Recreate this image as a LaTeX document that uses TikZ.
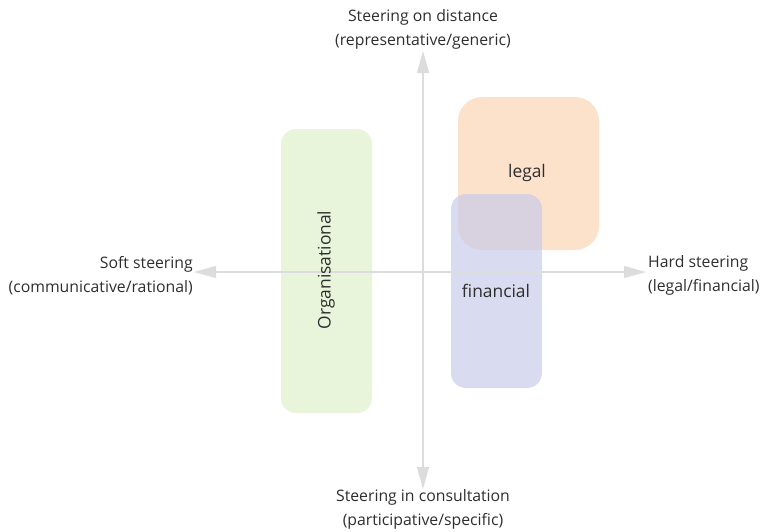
\documentclass[tikz,border=0pt]{standalone}
\usepackage{fontspec}
\setmainfont{Open Sans}
\usetikzlibrary{arrows.meta}
\definecolor{txt}{HTML}{2E2E2E}
\definecolor{axisgray}{HTML}{DCDCDC}
\definecolor{greenfill}{HTML}{E8F5DB}
\definecolor{orangefill}{HTML}{FCE2CB}
\definecolor{bluefill}{HTML}{C9CCE9}
\begin{document}
\begin{tikzpicture}[x=1pt,y=-1pt,
  lbl/.style={text=txt,font=\fontsize{15.8}{24}\selectfont,inner sep=0pt},
  zonelbl/.style={lbl,font=\fontsize{17.4}{24}\selectfont},
  axisline/.style={draw=axisgray,line width=1.2pt,-{Triangle[length=22pt,width=12pt]}}]
\useasboundingbox (0,0) rectangle (760,531);
% zones
\fill[greenfill,rounded corners=15pt] (281,129) rectangle (372,413);
\fill[orangefill,rounded corners=24pt] (458,97) rectangle (599,250);
\fill[bluefill,fill opacity=0.7,rounded corners=15pt] (451,194) rectangle (542,388);
% axes
\coordinate (c) at (423,272);
\coordinate (top) at (423,51);
\coordinate (bot) at (423,489);
\coordinate (lft) at (194,272);
\coordinate (rgt) at (646,272);
\draw[axisline] (c) -- (top);
\draw[axisline] (c) -- (bot);
\draw[axisline] (c) -- (lft);
\draw[axisline] (c) -- (rgt);
% labels
\node[lbl,align=center] (tl) at (423,29.5) {Steering on distance\\(representative/generic)};
\node[lbl,align=center] (bl) at (423,509.5) {Steering in consultation\\(participative/specific)};
\node[lbl,align=right,anchor=east] (ll) at (193,275.5) {Soft steering\\(communicative/rational)};
\node[lbl,align=left,anchor=west] (rl) at (648,275.5) {Hard steering\\(legal/financial)};
\node[zonelbl] (legal) at (527,173) {legal};
\node[zonelbl] (fin) at (496,291) {financial};
\node[zonelbl,rotate=90] (org) at (326,270) {Organisational};
\end{tikzpicture}
\end{document}
